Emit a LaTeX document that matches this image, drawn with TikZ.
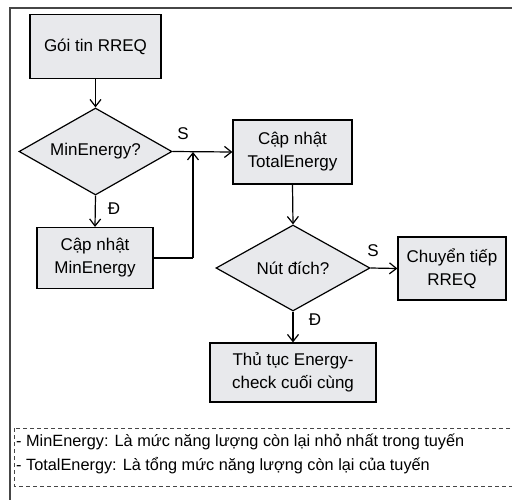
\documentclass[tikz,border=0pt]{standalone}
\usepackage{fontspec}
\setmainfont{Liberation Sans}
\usetikzlibrary{shapes.geometric,arrows.meta}
\definecolor{boxfill}{RGB}{232,233,236}
\definecolor{framegray}{RGB}{70,70,70}
\tikzset{
  box/.style={draw=black,fill=boxfill,line width=1.2pt,inner sep=0pt,align=center,font=\fontsize{17}{23}\selectfont},
  dia/.style={draw=black,fill=boxfill,line width=1.2pt,inner sep=0pt,shape=diamond,aspect=2,align=center,font=\fontsize{17}{23}\selectfont},
  conn/.style={line width=1.2pt,-{Straight Barb[length=7pt,width=11pt,line width=1.2pt]}},
  lbl/.style={font=\fontsize{17}{23}\selectfont,inner sep=0pt},
  legtext/.style={font=\fontsize{16.3}{23}\selectfont,inner sep=0pt,anchor=west}
}
\begin{document}
\begin{tikzpicture}[x=1pt,y=-1pt]
\clip (0,0) rectangle (512,499);
\path[use as bounding box] (0,0) rectangle (512,499);
\fill[white] (0,0) rectangle (512,499);
\draw[framegray,line width=1.2pt] (10,8) rectangle (540,530);

\node[box,minimum width=131pt,minimum height=64pt] (b1) at (95.5,46.5) {Gói tin RREQ};
\node[dia,minimum width=153pt,minimum height=87pt] (d1) at (95.5,151.5) {MinEnergy?};
\node[box,minimum width=116pt,minimum height=61pt] (b2) at (95,258) {Cập nhật\\MinEnergy};
\node[box,minimum width=119pt,minimum height=64pt] (b3) at (292.5,152) {Cập nhật\\TotalEnergy};
\node[dia,minimum width=154pt,minimum height=86pt] (d2) at (293,268) {Nút đích?};
\node[box,minimum width=108pt,minimum height=63pt] (b4) at (452,268.5) {Chuyển tiếp\\RREQ};
\node[box,minimum width=166pt,minimum height=59pt] (b5) at (293,372.5) {Thủ tục Energy-\\check cuối cùng};

\coordinate (j1) at (193,152);
\coordinate (j2) at (193,258);

\draw[conn] (b1.south) -- (d1.north);
\draw[conn] (d1.south) -- (b2.north);
\draw[conn] (d1.east) -- (b3.west);
\draw[line width=1.2pt] (b2.east) -- (j2);
\draw[conn] (j2) -- (j1);
\draw[conn] (b3.south) -- (d2.north);
\draw[conn] (d2.east) -- (b4.west);
\draw[conn] (d2.south) -- (b5.north);

\node[lbl] (s1) at (183,134) {S};
\node[lbl] (dd1) at (114,209) {Đ};
\node[lbl] (s2) at (373,251) {S};
\node[lbl] (dd2) at (315,320) {Đ};

\draw[framegray,line width=1pt,dash pattern=on 4pt off 3pt] (14,428) rectangle (540,486);
\node[legtext] (l1) at (16,442) {- MinEnergy: Là mức năng lượng còn lại nhỏ nhất trong tuyến};
\node[legtext] (l2) at (16,466) {- TotalEnergy: Là tổng mức năng lượng còn lại của tuyến};
\end{tikzpicture}
\end{document}
